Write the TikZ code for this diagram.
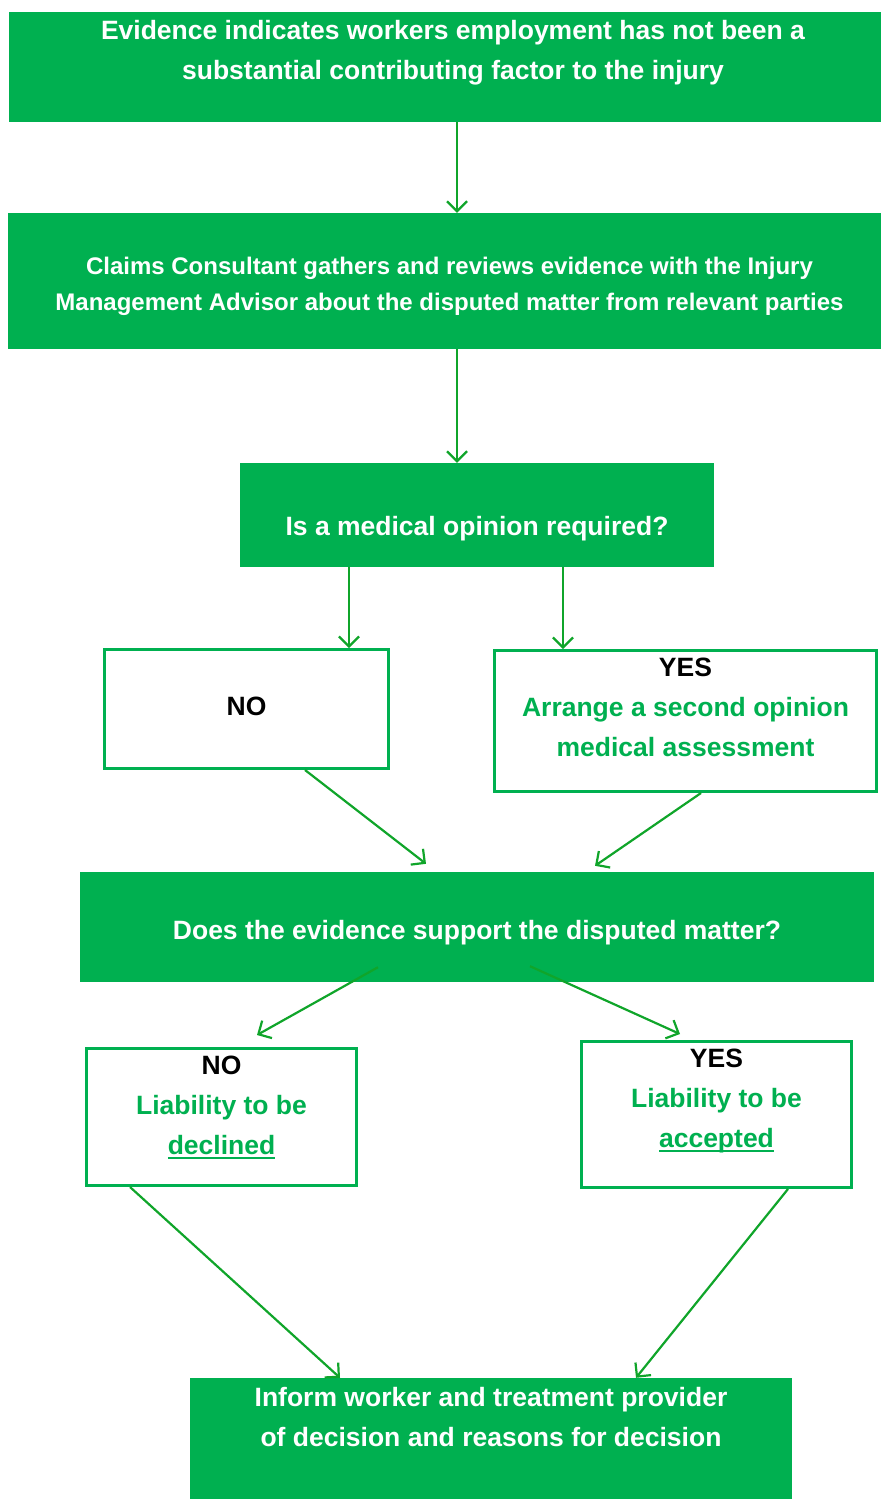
\documentclass[tikz,border=0pt]{standalone}
\usepackage{fontspec}
\setmainfont{Liberation Sans}
\usetikzlibrary{arrows.meta}

\definecolor{boxgreen}{RGB}{0,176,80}
\definecolor{arrowgreen}{RGB}{16,165,42}
\newcommand{\bigtxt}{\fontsize{26.5}{40}\selectfont\bfseries}
\newcommand{\midtxt}{\fontsize{24}{36}\selectfont\bfseries}
\newcommand{\lift}[1]{\rule[-#1pt]{0pt}{#1pt}} % extra depth -> text moves up
\newcommand{\drop}[1]{\rule{0pt}{#1pt}}        % extra height -> text moves down
\newcommand{\undl}[1]{\setbox0\hbox{#1}\rlap{\rule[-4.5pt]{\wd0}{1.8pt}}\box0}

\begin{document}
\begin{tikzpicture}[x=1pt,y=-1pt,
    fillbox/.style={fill=boxgreen, text=white, align=center, font=\bigtxt, inner sep=0pt},
    linebox/.style={draw=boxgreen, line width=3pt, fill=white, text=boxgreen, align=center, font=\bigtxt, inner sep=0pt},
    arr/.style={-{Straight Barb[length=10pt,width=20pt]}, arrowgreen, line width=2.2pt}]
    \useasboundingbox (0,0) rectangle (881,1499);

    % Green boxes
    \node[fillbox, minimum width=872pt, minimum height=110pt] (evid) at (445,67)
        {\hspace*{16pt}Evidence indicates workers employment has not been a\\\hspace*{16pt}substantial contributing factor to the injury\lift{34}};
    \node[fillbox, font=\midtxt, minimum width=873pt, minimum height=136pt] (gather) at (444.5,281)
        {\hspace*{10pt}\drop{28}Claims Consultant gathers and reviews evidence with the Injury\\\hspace*{10pt}Management Advisor about the disputed matter from relevant parties};
    \node[fillbox, minimum width=474pt, minimum height=104pt] (medq) at (477,515)
        {\drop{47}Is a medical opinion required?};

    % First answers
    \node[linebox, text=black, minimum width=284pt, minimum height=119pt] (nomed) at (246.5,709) {NO\lift{6}};
    \node[linebox, minimum width=382pt, minimum height=141pt] (yesmed) at (685.5,721)
        {\textcolor{black}{YES}\\Arrange a second opinion\\medical assessment\lift{28}};

    \node[fillbox, minimum width=794pt, minimum height=110pt] (supq) at (477,927)
        {\drop{31}Does the evidence support the disputed matter?};

    % Decision boxes
    \node[linebox, minimum width=270pt, minimum height=137pt] (decl) at (221.5,1117)
        {\textcolor{black}{NO}\\Liability to be\\\undl{declined}\lift{24}};
    \node[linebox, minimum width=270pt, minimum height=146pt] (acc) at (716.5,1114.5)
        {\textcolor{black}{YES}\\Liability to be\\\undl{accepted}\lift{32}};

    \node[fillbox, minimum width=602pt, minimum height=121pt] (inform) at (491,1438.5)
        {Inform worker and treatment provider\\of decision and reasons for decision\lift{44}};

    % Arrows
    \draw[arr] ([xshift=12pt]evid.south) -- ([xshift=12.5pt]gather.north);
    \draw[arr] ([xshift=12.5pt]gather.south) -- ([xshift=-20pt]medq.north);
    \draw[arr] ([xshift=-128pt]medq.south) -- ([xshift=102.5pt]nomed.north);
    \draw[arr] ([xshift=86pt]medq.south) -- ([xshift=-122.5pt]yesmed.north);
    \draw[arr] ([xshift=58.5pt]nomed.south) -- ([xshift=-51pt,yshift=8pt]supq.north);
    \draw[arr] ([xshift=15.5pt]yesmed.south) -- ([xshift=118pt,yshift=6pt]supq.north);
    \draw[arr] ([xshift=-99pt,yshift=15pt]supq.south) -- ([xshift=35.5pt,yshift=12pt]decl.north);
    \draw[arr] ([xshift=53pt,yshift=16pt]supq.south) -- ([xshift=-36.5pt,yshift=6pt]acc.north);
    \draw[arr] ([xshift=-91.5pt]decl.south) -- ([xshift=-151pt]inform.north);
    \draw[arr] ([xshift=71.5pt]acc.south) -- ([xshift=145pt]inform.north);
\end{tikzpicture}
\end{document}
